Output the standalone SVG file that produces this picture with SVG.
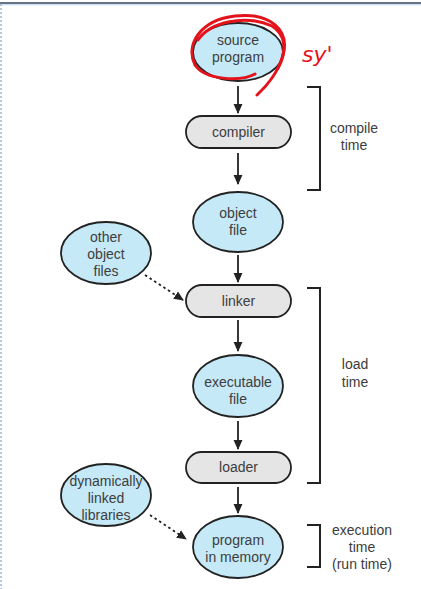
<svg xmlns="http://www.w3.org/2000/svg" width="421" height="589" viewBox="0 0 421 589">
<defs>
<style>
.bg{fill:#ffffff}
.oval{fill:#c6e9f8;stroke:#222;stroke-width:1.8}
.proc{fill:#e5e5e5;stroke:#222;stroke-width:1.8}
.t{font-family:"Liberation Sans",Arial,sans-serif;font-size:14px;fill:#3d3d3d;text-anchor:middle}
.edge{stroke:#222;stroke-width:1.8;fill:none}
.dot{stroke:#222;stroke-width:1.8;fill:none;stroke-dasharray:2.5 3}
.br{stroke:#222;stroke-width:2;fill:none}
.ink{stroke:#e3121b;stroke-width:3;fill:none;stroke-linecap:round}
</style>
<marker id="ah" viewBox="0 0 10 10" refX="9" refY="5" markerWidth="5.5" markerHeight="5.5" orient="auto" markerUnits="strokeWidth">
<path d="M0,0.5 L10,5 L0,9.5 z" fill="#222"/>
</marker>
</defs>
<rect class="bg" x="0" y="0" width="421" height="589"/>
<line x1="0" y1="3" x2="421" y2="3" stroke="#34445e" stroke-width="1.5"/>
<line x1="0" y1="4.8" x2="421" y2="4.8" stroke="#bcd6ee" stroke-width="1"/>
<line x1="1" y1="4" x2="1" y2="589" stroke="#9fb6d6" stroke-width="1.5" stroke-dasharray="2 2"/>

<g id="connectors">
<line class="edge" x1="238" y1="86" x2="238" y2="113" marker-end="url(#ah)"/>
<line class="edge" x1="238" y1="153" x2="238" y2="184" marker-end="url(#ah)"/>
<line class="edge" x1="238" y1="255" x2="238" y2="282" marker-end="url(#ah)"/>
<line class="edge" x1="238" y1="320" x2="238" y2="351" marker-end="url(#ah)"/>
<line class="edge" x1="238" y1="421" x2="238" y2="449" marker-end="url(#ah)"/>
<line class="edge" x1="238" y1="487" x2="238" y2="513" marker-end="url(#ah)"/>
<line class="dot" x1="145" y1="275" x2="183" y2="300" marker-end="url(#ah)"/>
<line class="dot" x1="150" y1="515" x2="186" y2="539" marker-end="url(#ah)"/>
</g>

<g id="source-program">
<ellipse class="oval" cx="238" cy="52" rx="45" ry="29"/>
<text class="t" x="238" y="45">source</text>
<text class="t" x="238" y="62">program</text>
</g>
<g id="compiler">
<rect class="proc" x="186" y="116" width="105" height="32" rx="16"/>
<text class="t" x="238.5" y="137">compiler</text>
</g>
<g id="object-file">
<ellipse class="oval" cx="238" cy="222" rx="45" ry="30"/>
<text class="t" x="238" y="218">object</text>
<text class="t" x="238" y="235">file</text>
</g>
<g id="other-object-files">
<ellipse class="oval" cx="106" cy="253" rx="45" ry="31"/>
<text class="t" x="106" y="242">other</text>
<text class="t" x="106" y="259">object</text>
<text class="t" x="106" y="276">files</text>
</g>
<g id="linker">
<rect class="proc" x="186" y="285" width="105" height="32" rx="16"/>
<text class="t" x="238.5" y="306">linker</text>
</g>
<g id="executable-file">
<ellipse class="oval" cx="238" cy="386" rx="45" ry="31"/>
<text class="t" x="238" y="387">executable</text>
<text class="t" x="238" y="404">file</text>
</g>
<g id="loader">
<rect class="proc" x="186" y="452" width="105" height="31" rx="15.5"/>
<text class="t" x="238.5" y="472">loader</text>
</g>
<g id="dynamically-linked-libraries">
<ellipse class="oval" cx="106" cy="495" rx="45" ry="31"/>
<text class="t" x="106" y="486">dynamically</text>
<text class="t" x="106" y="503">linked</text>
<text class="t" x="106" y="520">libraries</text>
</g>
<g id="program-in-memory">
<ellipse class="oval" cx="238" cy="547" rx="45" ry="31"/>
<text class="t" x="238" y="545">program</text>
<text class="t" x="238" y="562">in memory</text>
</g>

<g id="brackets">
<path class="br" d="M307 87 H320 V190 H307"/>
<path class="br" d="M307 288 H320 V483 H307"/>
<path class="br" d="M307 525 H320 V567 H307"/>
<text class="t" x="354" y="133">compile</text>
<text class="t" x="354" y="150">time</text>
<text class="t" x="355" y="369">load</text>
<text class="t" x="355" y="387">time</text>
<text class="t" x="362" y="535">execution</text>
<text class="t" x="362" y="552">time</text>
<text class="t" x="362" y="569">(run time)</text>
</g>

<g id="annotation">
<path class="ink" d="M255 74 C240 82 205 80 195 65 C185 45 200 20 235 16 C270 12 290 30 283 55 C279 70 268 85 257 95"/>
<path class="ink" d="M198 40 C210 22 245 14 272 26 C285 34 288 50 278 68"/>
<text x="302" y="62" font-family="DejaVu Sans, sans-serif" font-size="22" font-style="italic" fill="#e3121b">sy'</text>
</g>
</svg>
